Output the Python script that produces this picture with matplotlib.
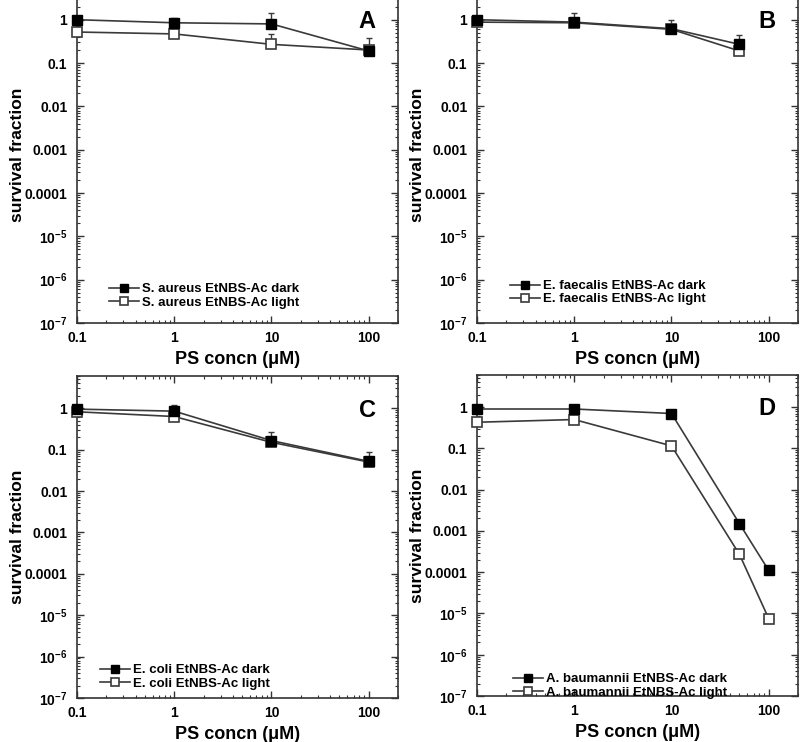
import matplotlib
matplotlib.use("Agg")
import matplotlib.pyplot as plt
from matplotlib.ticker import LogLocator, FixedLocator, NullFormatter

plt.rcParams['font.family'] = ['Liberation Sans', 'DejaVu Sans']
plt.rcParams['mathtext.fontset'] = 'custom'
plt.rcParams['mathtext.rm'] = 'Liberation Sans:bold'
plt.rcParams['mathtext.bf'] = 'Liberation Sans:bold'

# ---- data ----
x_A = [0.1, 1, 10, 100]
dark_A = [1.0, 0.85, 0.80, 0.19]
dark_A_err = [0.0, 0.25, 0.6, 0.19]
light_A = [0.52, 0.47, 0.27, 0.20]
light_A_err = [0.0, 0.0, 0.2, 0.0]

x_B = [0.1, 1, 10, 50]
dark_B = [1.0, 0.88, 0.62, 0.27]
dark_B_err = [0.0, 0.55, 0.38, 0.18]
light_B = [0.88, 0.85, 0.60, 0.19]
light_B_err = [0.0, 0.0, 0.0, 0.0]

x_C = [0.1, 1, 10, 100]
dark_C = [0.95, 0.85, 0.165, 0.052]
dark_C_err = [0.0, 0.35, 0.10, 0.035]
light_C = [0.82, 0.63, 0.15, 0.05]
light_C_err = [0.0, 0.0, 0.0, 0.0]

x_D = [0.1, 1, 10, 50, 100]
dark_D = [0.9, 0.9, 0.7, 0.0015, 0.00011]
light_D = [0.43, 0.5, 0.115, 0.00027, 7.5e-6]

labels_A = ["S. aureus EtNBS-Ac dark", "S. aureus EtNBS-Ac light"]
labels_B = ["E. faecalis EtNBS-Ac dark", "E. faecalis EtNBS-Ac light"]
labels_C = ["E. coli EtNBS-Ac dark", "E. coli EtNBS-Ac light"]
labels_D = ["A. baumannii EtNBS-Ac dark", "A. baumannii EtNBS-Ac light"]

y_ticks = [1e-7, 1e-6, 1e-5, 1e-4, 1e-3, 1e-2, 1e-1, 1]
y_ticklabels = [r"$\mathbf{10^{-7}}$", r"$\mathbf{10^{-6}}$", r"$\mathbf{10^{-5}}$",
                "0.0001", "0.001", "0.01", "0.1", "1"]
x_ticks = [0.1, 1, 10, 100]
x_ticklabels = ["0.1", "1", "10", "100"]

W, H = 800, 742
fig = plt.figure(figsize=(8.0, 7.42), dpi=100)

def px_axes(l, t, r, b):
    return fig.add_axes([l / W, 1 - b / H, (r - l) / W, (b - t) / H])

line_col = '#3a3a3a'

def panel(ax, x, dark, light, labels, letter, leg_anchor, dark_err=None, light_err=None):
    if dark_err is not None:
        ax.errorbar(x, dark, yerr=[[0]*len(x), dark_err], fmt='none', ecolor=line_col,
                    elinewidth=1.0, capsize=2.2, capthick=1.0, zorder=2)
    if light_err is not None:
        ax.errorbar(x, light, yerr=[[0]*len(x), light_err], fmt='none', ecolor=line_col,
                    elinewidth=1.0, capsize=2.2, capthick=1.0, zorder=2)
    ax.plot(x, dark, '-', color=line_col, lw=1.2, marker='s', ms=7.2,
            mfc='black', mec='black', label=labels[0], zorder=4, clip_on=False)
    ax.plot(x, light, '-', color=line_col, lw=1.2, marker='s', ms=7.2,
            mfc='white', mec=line_col, mew=1.2, label=labels[1], zorder=3, clip_on=False)
    ax.set_xscale('log')
    ax.set_yscale('log')
    ax.set_xlim(0.1, 200)
    ax.set_ylim(1e-7, 6)
    ax.xaxis.set_major_locator(FixedLocator(x_ticks))
    ax.set_xticklabels(x_ticklabels)
    ax.yaxis.set_major_locator(FixedLocator(y_ticks))
    ax.set_yticklabels(y_ticklabels)
    ax.xaxis.set_minor_locator(LogLocator(base=10, subs=range(2, 10), numticks=20))
    ax.yaxis.set_minor_locator(LogLocator(base=10, subs=range(2, 10), numticks=20))
    ax.xaxis.set_minor_formatter(NullFormatter())
    ax.yaxis.set_minor_formatter(NullFormatter())
    ax.tick_params(which='both', direction='in', top=True, right=True, color='#333333')
    ax.tick_params(which='major', length=5, width=1.0, labelsize=10, pad=6)
    ax.tick_params(axis='y', which='major', pad=7)
    ax.tick_params(which='minor', length=2.5, width=0.8)
    for lab in ax.get_xticklabels() + ax.get_yticklabels():
        lab.set_fontweight('bold')
    for s in ax.spines.values():
        s.set_linewidth(1.2)
        s.set_color('#333333')
    ax.set_xlabel("PS concn (μM)", fontsize=13, fontweight='bold', labelpad=4)
    ax.set_ylabel("survival fraction", fontsize=12.5, fontweight='bold', labelpad=0)
    ax.text(0.93, 0.93, letter, transform=ax.transAxes, fontsize=17, fontweight='bold',
            ha='right', va='top')
    leg = ax.legend(loc='lower left', bbox_to_anchor=leg_anchor, frameon=False,
                    fontsize=9.5, markerscale=0.8, handlelength=2.3, handletextpad=0.2,
                    labelspacing=0.08, borderaxespad=0.0, borderpad=0.0)
    for t in leg.get_texts():
        t.set_fontweight('bold')

axA = px_axes(77, -14, 398, 323)
axB = px_axes(477, -14, 798, 323)
axC = px_axes(77, 376, 398, 698)
axD = px_axes(477, 375, 798, 696)

panel(axA, x_A, dark_A, light_A, labels_A, "A", (0.10, 0.043), dark_A_err, light_A_err)
panel(axB, x_B, dark_B, light_B, labels_B, "B", (0.103, 0.052), dark_B_err, light_B_err)
panel(axC, x_C, dark_C, light_C, labels_C, "C", (0.072, 0.026), dark_C_err, light_C_err)
panel(axD, x_D, dark_D, light_D, labels_D, "D", (0.112, -0.008))

fig.savefig("out.png", dpi=100)
